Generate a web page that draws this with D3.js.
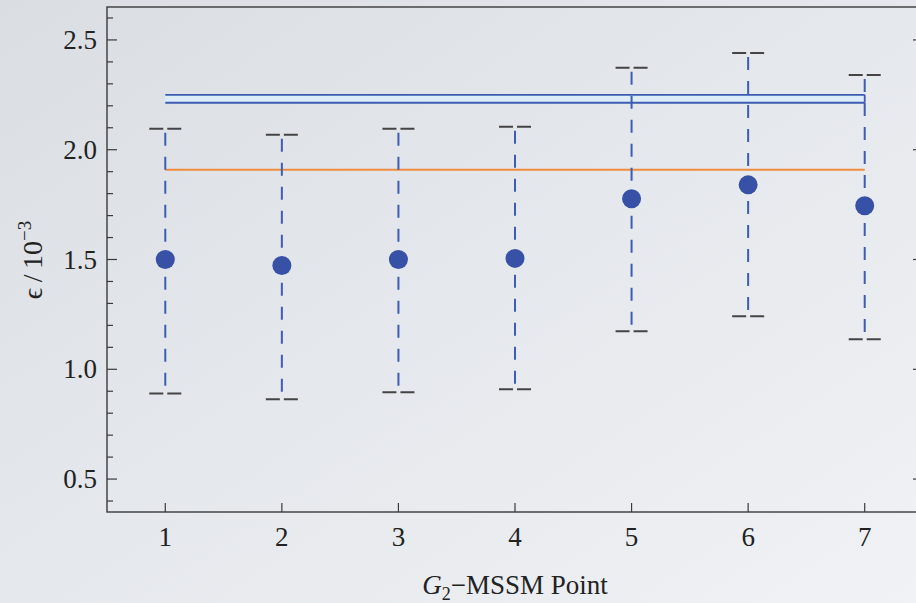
<!DOCTYPE html>
<html>
<head>
<meta charset="utf-8">
<script src="https://cdn.jsdelivr.net/npm/d3@7"></script>
<style>
  html, body { margin: 0; padding: 0; }
  body { width: 916px; height: 603px; overflow: hidden; }
  text { font-family: 'Liberation Serif', 'DejaVu Serif', serif; }
</style>
</head>
<body>
<div id="svg-container"></div>
<script>
// Data
const points = [1, 2, 3, 4, 5, 6, 7];
const centralValues = [1.50, 1.473, 1.50, 1.505, 1.777, 1.84, 1.745];
const upperValues = [2.096, 2.068, 2.096, 2.105, 2.373, 2.44, 2.34];
const lowerValues = [0.89, 0.863, 0.895, 0.909, 1.173, 1.241, 1.137];
const bandLimits = [2.214, 2.25];
const orangeLevel = [1.909];
const yTickValues = [0.5, 1.0, 1.5, 2.0, 2.5];

const width = 916, height = 603;
const plotLeft = 107, plotRight = 923, plotTop = 7, plotBottom = 512;

const svg = d3.select("#svg-container")
    .append("svg")
    .attr("width", width)
    .attr("height", height);

// Background gradient
const defs = svg.append("defs");
const grad = defs.append("linearGradient")
    .attr("id", "bg")
    .attr("x1", "0%").attr("y1", "0%")
    .attr("x2", "100%").attr("y2", "100%");
grad.append("stop").attr("offset", "0%").attr("stop-color", "#dadee3");
grad.append("stop").attr("offset", "100%").attr("stop-color", "#f0f2f5");

svg.append("rect")
    .attr("width", width)
    .attr("height", height)
    .attr("fill", "url(#bg)");

const x = d3.scaleLinear().domain([0.5, 7.5]).range([plotLeft, plotRight]);
const y = d3.scaleLinear().domain([0.35, 2.65]).range([plotBottom, plotTop]);

const frameColor = "#3a3a3a";

// Minor / major ticks on left and right
const minorTicks = d3.range(4, 27).map(d => d / 10);
const ticks = svg.append("g");
minorTicks.forEach(v => {
    const major = yTickValues.some(t => Math.abs(t - v) < 1e-6);
    const len = major ? 10 : 6;
    ticks.append("line")
        .attr("x1", plotLeft).attr("x2", plotLeft + len)
        .attr("y1", y(v)).attr("y2", y(v))
        .attr("stroke", frameColor).attr("stroke-width", 1.2);
    ticks.append("line")
        .attr("x1", plotRight).attr("x2", plotRight - len)
        .attr("y1", y(v)).attr("y2", y(v))
        .attr("stroke", frameColor).attr("stroke-width", 1.2);
});

// Bottom ticks
points.forEach(p => {
    ticks.append("line")
        .attr("x1", x(p)).attr("x2", x(p))
        .attr("y1", plotBottom).attr("y2", plotBottom - 9)
        .attr("stroke", frameColor).attr("stroke-width", 1.2);
});

// Frame
svg.append("rect")
    .attr("x", plotLeft).attr("y", plotTop)
    .attr("width", plotRight - plotLeft).attr("height", plotBottom - plotTop)
    .attr("fill", "none")
    .attr("stroke", frameColor)
    .attr("stroke-width", 1.4);

// Tick labels
svg.append("g").selectAll("text")
    .data(yTickValues)
    .enter()
    .append("text")
    .attr("x", 97)
    .attr("y", d => y(d) + 9)
    .attr("text-anchor", "end")
    .attr("font-size", "27px")
    .attr("fill", "#222")
    .text(d => d.toFixed(1));

svg.append("g").selectAll("text")
    .data(points)
    .enter()
    .append("text")
    .attr("x", d => x(d))
    .attr("y", 546)
    .attr("text-anchor", "middle")
    .attr("font-size", "27px")
    .attr("fill", "#222")
    .text(d => d);

// Blue band
const xFirst = x(points[0]), xLast = x(points[points.length - 1]);
svg.append("rect")
    .attr("x", xFirst)
    .attr("width", xLast - xFirst)
    .attr("y", y(bandLimits[1]))
    .attr("height", y(bandLimits[0]) - y(bandLimits[1]))
    .attr("fill", "#dcedf9");
bandLimits.forEach(v => {
    svg.append("line")
        .attr("x1", xFirst).attr("x2", xLast)
        .attr("y1", y(v)).attr("y2", y(v))
        .attr("stroke", "#3c5bb3").attr("stroke-width", 1.8);
});
svg.append("line")
    .attr("x1", xLast).attr("x2", xLast)
    .attr("y1", y(bandLimits[1])).attr("y2", y(bandLimits[0]))
    .attr("stroke", "#3c5bb3").attr("stroke-width", 1.8);

// Orange level
svg.append("line")
    .attr("x1", xFirst).attr("x2", xLast)
    .attr("y1", y(orangeLevel[0])).attr("y2", y(orangeLevel[0]))
    .attr("stroke", "#f08c3e").attr("stroke-width", 2);

// Error bars
const bars = svg.append("g");
points.forEach((p, i) => {
    bars.append("line")
        .attr("x1", x(p)).attr("x2", x(p))
        .attr("y1", y(upperValues[i]) + 4).attr("y2", y(lowerValues[i]))
        .attr("stroke", "#3d5cb4")
        .attr("stroke-width", 2)
        .attr("stroke-dasharray", "13,11");
    [upperValues[i], lowerValues[i]].forEach(v => {
        bars.append("line")
            .attr("x1", x(p) - 16).attr("x2", x(p) + 16)
            .attr("y1", y(v)).attr("y2", y(v))
            .attr("stroke", "#444")
            .attr("stroke-width", 2)
            .attr("stroke-dasharray", "14,4");
    });
});

// Points
svg.append("g").selectAll("circle")
    .data(points)
    .enter()
    .append("circle")
    .attr("cx", d => x(d))
    .attr("cy", (d, i) => y(centralValues[i]))
    .attr("r", 9.5)
    .attr("fill", "#3651a6");

// Axis labels
const yl = svg.append("text")
    .attr("transform", "translate(42, 260) rotate(-90)")
    .attr("text-anchor", "middle")
    .attr("font-size", "28px")
    .attr("fill", "#222");
yl.append("tspan").text("\u03F5\u2009/\u200910");
yl.append("tspan").attr("dy", -11).attr("font-size", "19px").text("\u22123");

const xl = svg.append("text")
    .attr("x", 515)
    .attr("y", 594)
    .attr("text-anchor", "middle")
    .attr("font-size", "27px")
    .attr("fill", "#222");
xl.append("tspan").attr("font-style", "italic").text("G");
xl.append("tspan").attr("dy", 6).attr("font-size", "18px").text("2");
xl.append("tspan").attr("dy", -6).text("\u2212MSSM Point");
</script>
</body>
</html>
